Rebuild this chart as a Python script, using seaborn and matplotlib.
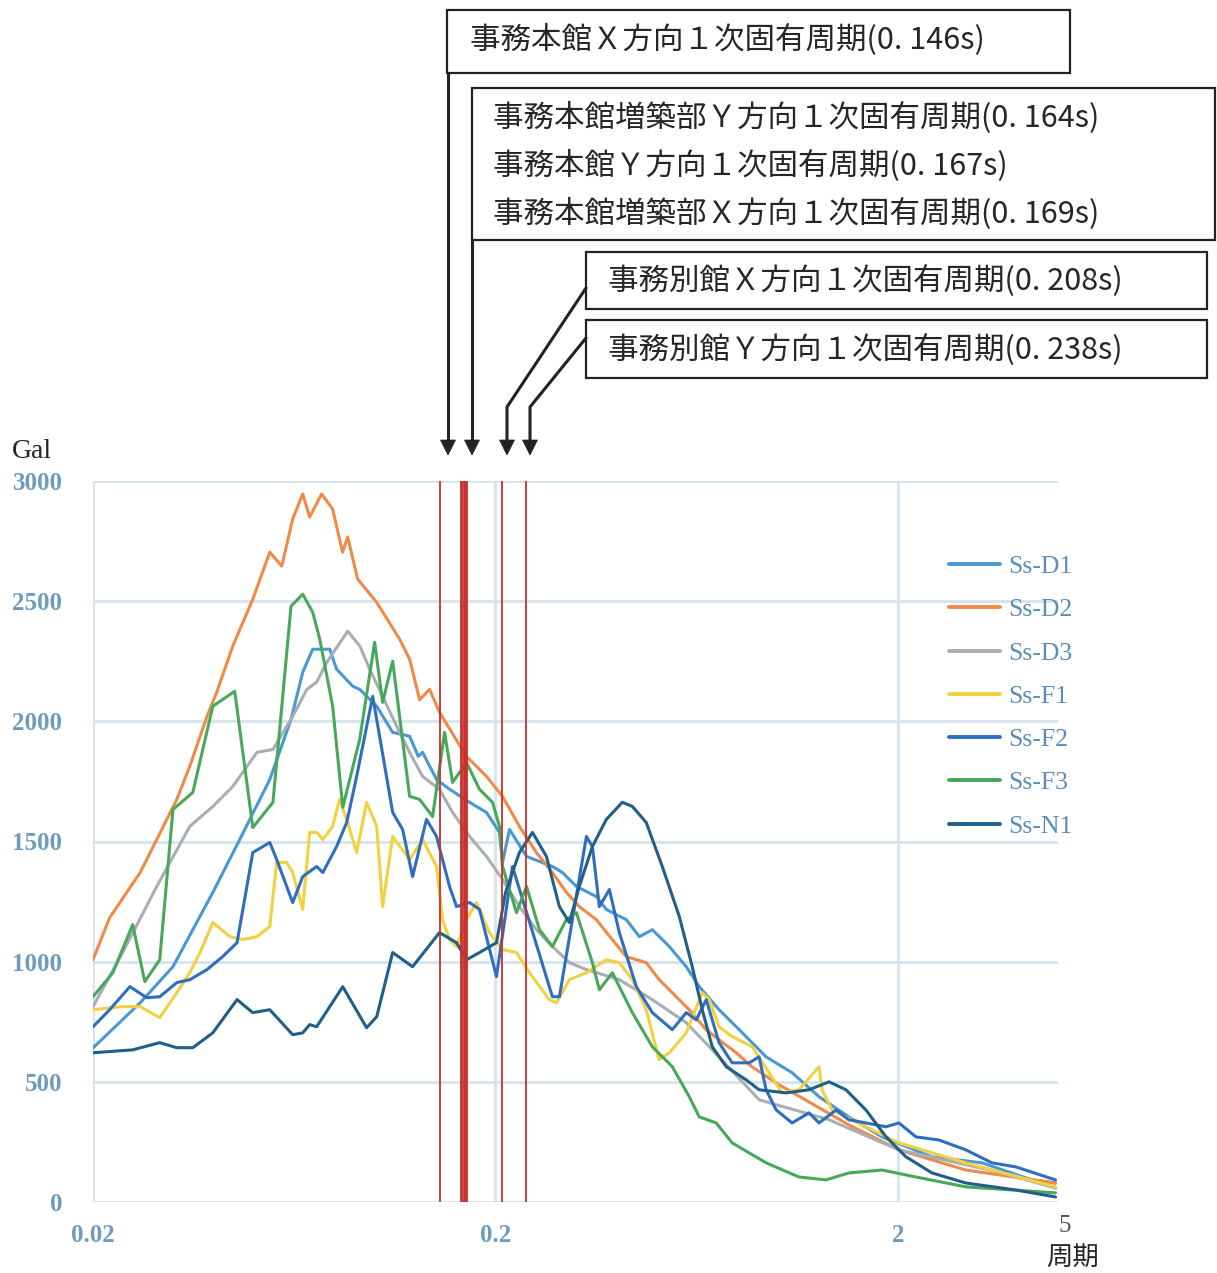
import numpy as np
import pandas as pd
import matplotlib
matplotlib.use("Agg")
import matplotlib.pyplot as plt
import seaborn as sns
from matplotlib.lines import Line2D
from matplotlib.patches import Rectangle, Polygon
from matplotlib.ticker import NullLocator

W, H = 1217, 1273

# 応答スペクトル（周期[s], 加速度[Gal]）
series_names = ["Ss-D1", "Ss-D2", "Ss-D3", "Ss-F1", "Ss-F2", "Ss-F3", "Ss-N1"]
series_colors = ["#4a98d3", "#ef8a48", "#a9aeb3", "#f1d142", "#2f6ebf", "#48a85a", "#1f5f88"]

d1_period = [0.0200, 0.0262, 0.0316, 0.0397, 0.0463, 0.0550, 0.0621, 0.0664, 0.0703, 0.0775,
             0.0806, 0.0884, 0.0920, 0.1014, 0.1111, 0.1224, 0.1286, 0.1318, 0.1428, 0.1540,
             0.1725, 0.1900, 0.2047, 0.2083, 0.2168, 0.2389, 0.2771, 0.2934, 0.3179, 0.3563,
             0.3773, 0.4229, 0.4557, 0.4908, 0.5408, 0.5959, 0.642, 0.719, 0.807, 0.941,
             1.092, 1.274, 1.511, 1.827, 2.431, 3.235, 4.304, 4.93]
d1_value = [641, 829, 979, 1288, 1508, 1758, 2008, 2204, 2300, 2300,
            2217, 2146, 2133, 2063, 1954, 1938, 1854, 1871, 1758, 1717,
            1663, 1621, 1538, 1413, 1550, 1438, 1396, 1371, 1313, 1271,
            1217, 1175, 1104, 1133, 1063, 979, 896, 800, 717, 604,
            538, 438, 354, 271, 188, 163, 92, 79]

d2_period = [0.0200, 0.0220, 0.0262, 0.0288, 0.0323, 0.0348, 0.0384, 0.0406, 0.0445, 0.0499,
             0.0550, 0.0589, 0.0627, 0.0664, 0.0691, 0.0740, 0.0788, 0.0834, 0.0859, 0.0909,
             0.1013, 0.1156, 0.1224, 0.1296, 0.1372, 0.1452, 0.1694, 0.1900, 0.2082, 0.2294,
             0.2528, 0.2770, 0.3002, 0.3232, 0.3562, 0.3902, 0.4229, 0.4740, 0.5104, 0.5500,
             0.6059, 0.6678, 0.719, 0.793, 0.868, 1.013, 1.511, 2.012, 2.950, 4.93]
d2_value = [1008, 1183, 1371, 1508, 1675, 1813, 2021, 2121, 2313, 2508,
            2704, 2646, 2842, 2946, 2850, 2946, 2883, 2704, 2767, 2592,
            2496, 2342, 2259, 2090, 2133, 2038, 1854, 1771, 1688, 1563,
            1454, 1371, 1288, 1229, 1175, 1092, 1021, 996, 925, 871,
            800, 717, 675, 621, 563, 488, 321, 217, 133, 79]

d3_period = [0.0200, 0.0237, 0.0288, 0.0348, 0.0397, 0.0445, 0.0511, 0.0560, 0.0627, 0.0680,
             0.0719, 0.0762, 0.0859, 0.0921, 0.0974, 0.1049, 0.1156, 0.1224, 0.1318, 0.1452,
             0.1565, 0.1725, 0.1900, 0.2083, 0.2294, 0.2528, 0.2771, 0.3054, 0.3366, 0.4064,
             0.4908, 0.596, 0.680, 0.905, 1.35, 2.012, 3.56, 4.93]
d3_value = [813, 1038, 1313, 1563, 1646, 1729, 1871, 1883, 2021, 2133,
            2163, 2246, 2375, 2313, 2217, 2104, 1954, 1871, 1771, 1717,
            1621, 1521, 1438, 1342, 1229, 1133, 1063, 996, 967, 925,
            842, 746, 646, 425, 342, 217, 125, 58]

f1_period = [0.0200, 0.0237, 0.0262, 0.0293, 0.0323, 0.0348, 0.0369, 0.0397, 0.0438, 0.0471,
             0.0511, 0.0550, 0.0572, 0.0606, 0.0627, 0.0664, 0.0691, 0.0719, 0.0745, 0.0788,
             0.0820, 0.0854, 0.0904, 0.0957, 0.1014, 0.1049, 0.1111, 0.1224, 0.1318, 0.1428,
             0.1478, 0.1538, 0.1601, 0.1695, 0.1794, 0.1934, 0.2083, 0.2256, 0.2430, 0.2724,
             0.2835, 0.3054, 0.3366, 0.3773, 0.4064, 0.4378, 0.474, 0.510, 0.541, 0.596,
             0.653, 0.680, 0.719, 0.775, 0.869, 1.0315, 1.136, 1.274, 1.296, 1.373,
             1.666, 2.012, 2.95, 4.93]
f1_value = [800, 813, 813, 767, 871, 954, 1038, 1163, 1104, 1092,
            1104, 1146, 1413, 1413, 1371, 1217, 1538, 1538, 1508, 1563,
            1675, 1592, 1454, 1663, 1563, 1229, 1521, 1425, 1508, 1396,
            1175, 1092, 1063, 1175, 1246, 1121, 1050, 1038, 954, 842,
            829, 925, 954, 1008, 996, 925, 800, 592, 621, 704,
            871, 842, 729, 688, 646, 454, 467, 563, 467, 383,
            313, 246, 163, 63]

f2_period = [0.0200, 0.0220, 0.0247, 0.0272, 0.0293, 0.0323, 0.0348, 0.0384, 0.0420, 0.0456,
             0.0499, 0.0550, 0.0572, 0.0627, 0.0664, 0.0719, 0.0745, 0.0806, 0.0854, 0.0904,
             0.0991, 0.1111, 0.1176, 0.1245, 0.1348, 0.1428, 0.1538, 0.1601, 0.1725, 0.1826,
             0.2012, 0.2205, 0.2771, 0.2884, 0.3366, 0.3483, 0.3625, 0.3839, 0.4064, 0.4479,
             0.4908, 0.5502, 0.596, 0.631, 0.668, 0.719, 0.775, 0.854, 0.904, 0.941,
             0.997, 1.092, 1.203, 1.274, 1.405, 1.511, 1.666, 1.869, 2.012, 2.218,
             2.530, 2.95, 3.425, 3.927, 4.93]
f2_value = [729, 800, 896, 850, 854, 913, 925, 967, 1021, 1079,
            1454, 1496, 1425, 1246, 1354, 1396, 1371, 1479, 1579, 1771,
            2104, 1621, 1550, 1354, 1592, 1521, 1313, 1229, 1246, 1217,
            938, 1396, 854, 854, 1521, 1479, 1229, 1300, 1121, 896,
            788, 717, 788, 758, 842, 663, 579, 579, 604, 467,
            383, 329, 371, 329, 383, 342, 329, 313, 329, 271,
            258, 217, 163, 146, 92]

f3_period = [0.0200, 0.0224, 0.0251, 0.0269, 0.0293, 0.0316, 0.0354, 0.0397, 0.0450, 0.0499,
             0.0560, 0.0621, 0.0664, 0.0703, 0.0732, 0.0788, 0.0835, 0.0920, 0.1002, 0.1049,
             0.1111, 0.1224, 0.1296, 0.1396, 0.1495, 0.1565, 0.1695, 0.1826, 0.1967, 0.2047,
             0.2083, 0.2256, 0.2389, 0.2573, 0.2771, 0.3001, 0.3179, 0.3483, 0.3625, 0.3905,
             0.4378, 0.4908, 0.5502, 0.6063, 0.642, 0.7074, 0.775, 0.941, 1.136, 1.326,
             1.511, 1.827, 2.218, 2.95, 4.93]
f3_value = [854, 954, 1154, 917, 1008, 1633, 1704, 2063, 2125, 1558,
            1663, 2479, 2529, 2454, 2342, 2063, 1642, 1925, 2329, 2079,
            2250, 1688, 1675, 1604, 1954, 1746, 1829, 1717, 1663, 1563,
            1396, 1204, 1313, 1133, 1063, 1175, 1204, 996, 883, 954,
            788, 646, 563, 438, 354, 329, 246, 163, 104, 92,
            121, 133, 104, 63, 38]

n1_period = [0.0200, 0.0251, 0.0293, 0.0323, 0.0354, 0.0397, 0.0456, 0.0499, 0.0550, 0.0627,
             0.0664, 0.0691, 0.0719, 0.0835, 0.0957, 0.1014, 0.1111, 0.1245, 0.1452, 0.1601,
             0.1695, 0.1826, 0.2012, 0.2119, 0.2294, 0.2472, 0.2677, 0.2884, 0.3054, 0.3232,
             0.3483, 0.3773, 0.4134, 0.4378, 0.4740, 0.5196, 0.5727, 0.6168, 0.6531, 0.6915,
             0.749, 0.840, 0.904, 1.055, 1.203, 1.349, 1.486, 1.666, 1.869, 2.095,
             2.431, 2.95, 3.927, 4.93]
n1_value = [621, 633, 663, 642, 642, 704, 842, 788, 800, 696,
            704, 738, 729, 896, 725, 771, 1038, 979, 1121, 1079,
            1008, 1038, 1079, 1288, 1454, 1538, 1438, 1229, 1163, 1313,
            1479, 1592, 1663, 1646, 1579, 1396, 1188, 979, 800, 646,
            563, 508, 467, 454, 467, 500, 467, 383, 271, 188,
            121, 79, 50, 21]

# 建屋の1次固有周期（赤線）
natural_periods = [0.146, 0.164, 0.167, 0.169, 0.208, 0.238]
period_line_widths = [1.3, 2.0, 2.0, 2.0, 1.3, 1.3]

box1_lines = ["事務本館Ｘ方向１次固有周期(0. 146s)"]
box2_lines = ["事務本館増築部Ｙ方向１次固有周期(0. 164s)",
              "事務本館Ｙ方向１次固有周期(0. 167s)",
              "事務本館増築部Ｘ方向１次固有周期(0. 169s)"]
box3_lines = ["事務別館Ｘ方向１次固有周期(0. 208s)"]
box4_lines = ["事務別館Ｙ方向１次固有周期(0. 238s)"]

y_ticks = [0, 500, 1000, 1500, 2000, 2500, 3000]
x_ticks = [0.02, 0.2, 2]
x_tick_labels = ["0.02", "0.2", "2"]

periods = [d1_period, d2_period, d3_period, f1_period, f2_period, f3_period, n1_period]
values = [d1_value, d2_value, d3_value, f1_value, f2_value, f3_value, n1_value]
frames = []
for name, p, v in zip(series_names, periods, values):
    frames.append(pd.DataFrame({"period": p, "value": v, "series": name}))
df = pd.concat(frames, ignore_index=True)

sns.set_style("white")
plt.rcParams['font.family'] = ['Noto Sans CJK JP', 'DejaVu Sans']

fig = plt.figure(figsize=(W / 100, H / 100), dpi=100)


def fx(x):
    return x / W


def fy(y):
    return 1 - y / H


ax = fig.add_axes([fx(93), fy(1202), (1058 - 93) / W, (1202 - 481) / H])
sns.lineplot(data=df, x="period", y="value", hue="series", hue_order=series_names,
             palette=series_colors, estimator=None, sort=False, linewidth=2.2, ax=ax)

for p, w in zip(natural_periods, period_line_widths):
    ax.axvline(p, color="#c8302a", lw=w, zorder=5)

ax.set_xscale("log")
ax.set_xlim(0.02, 5)
ax.set_ylim(0, 3000)
ax.set_xticks(x_ticks)
ax.set_xticklabels(x_tick_labels)
ax.xaxis.set_minor_locator(NullLocator())
ax.set_yticks(y_ticks)
ax.set_xlabel("")
ax.set_ylabel("")
ax.grid(True, color="#d4e3ed", lw=2)
ax.set_axisbelow(True)
for s in ax.spines.values():
    s.set_visible(False)
tick_font = {"family": "Liberation Serif", "size": 18, "weight": "bold"}
ax.tick_params(axis="both", length=0, colors="#6e9bbf")
ax.tick_params(axis="y", pad=22)
ax.tick_params(axis="x", pad=16)
for lab in ax.get_xticklabels() + ax.get_yticklabels():
    lab.set_fontproperties(tick_font)

handles, labels = ax.get_legend_handles_labels()
leg = ax.legend(handles, labels, loc="upper left", bbox_to_anchor=(fx(949), fy(555)),
                bbox_transform=fig.transFigure, frameon=False, handlelength=2.0,
                handletextpad=0.3, labelspacing=0.79, borderpad=0, borderaxespad=0,
                prop={"family": "Liberation Serif", "size": 18.5})
for t in leg.get_texts():
    t.set_color("#5a8db5")
for h in leg.legend_handles:
    h.set_linewidth(2.8)

# 軸ラベル
fig.text(fx(12), fy(452), "Gal", fontsize=20, family="Liberation Serif", va="center", ha="left")
fig.text(fx(1065), fy(1226), "5", fontsize=18, family="Liberation Serif", color="#555555",
         va="center", ha="center")
fig.text(fx(1073), fy(1257), "周期", fontsize=19, va="center", ha="center")


def box(x0, y0, x1, y1):
    fig.add_artist(Rectangle((fx(x0), fy(y1)), fx(x1) - fx(x0), fy(y0) - fy(y1),
                             transform=fig.transFigure, fill=False, ec="#222222", lw=1.6))


def arrow(points, tip_y=455):
    xs = [fx(x) for x, y in points]
    ys = [fy(y) for x, y in points]
    fig.add_artist(Line2D(xs, ys, transform=fig.transFigure, color="#222222", lw=2.2))
    xt = points[-1][0]
    fig.add_artist(Polygon([(fx(xt - 7.5), fy(tip_y - 15)), (fx(xt + 7.5), fy(tip_y - 15)),
                            (fx(xt), fy(tip_y))], closed=True, transform=fig.transFigure,
                           fc="#222222", ec="#222222", lw=0.5))


box(447, 10, 1070, 73)
box(472, 88, 1215, 240)
box(586, 252, 1207, 309)
box(586, 320, 1207, 378)

fig.text(fx(470), fy(40), box1_lines[0], fontsize=22, va="center", ha="left")
for i, line in enumerate(box2_lines):
    fig.text(fx(493), fy(118 + 48 * i), line, fontsize=22, va="center", ha="left")
fig.text(fx(608), fy(281), box3_lines[0], fontsize=22, va="center", ha="left")
fig.text(fx(608), fy(350), box4_lines[0], fontsize=22, va="center", ha="left")

arrow([(448, 73), (448, 442)])
arrow([(472, 240), (472, 442)])
arrow([(586, 288), (507, 407), (507, 442)])
arrow([(586, 338), (530, 407), (530, 442)])

fig.savefig("out.png", dpi=100, facecolor="white")
